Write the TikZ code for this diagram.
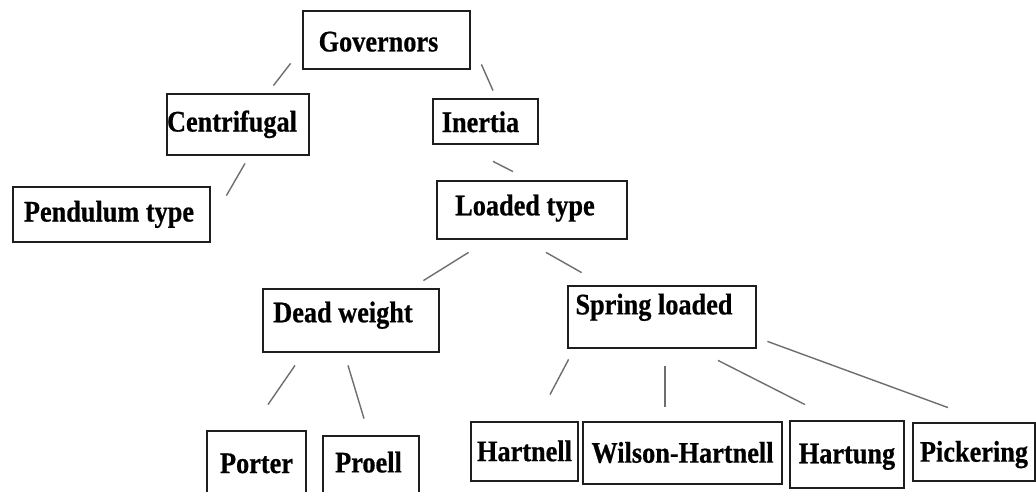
\documentclass[tikz,border=0pt]{standalone}
\usepackage{fontspec}
\setmainfont{Liberation Serif}[FakeStretch=0.88, BoldFeatures={FakeBold=0.6}]
\definecolor{boxline}{HTML}{1E1E1E}
\definecolor{linkgray}{HTML}{6E6E6E}
\tikzset{
  box/.style={draw=boxline, line width=1.6pt, inner sep=0pt,
    font=\fontsize{17}{20}\selectfont\bfseries, text=black,
    text height=12pt, text depth=4pt},
  bxsize/.style 2 args={minimum width=#1*0.02cm, minimum height=#2*0.02cm},
  lshift/.style={execute at end node={\hspace*{#1}}},
  link/.style={draw=linkgray, line width=0.8pt}
}
\begin{document}
\begin{tikzpicture}[x=0.02cm, y=-0.02cm]
  \useasboundingbox (0,0) rectangle (1036,492);
  \clip (0,0) rectangle (1036,492);
  % boxes
  \node[box, bxsize={167}{58}, lshift=0.32cm, text height=17pt] (gov) at (386.5,40) {Governors};
  \node[box, bxsize={142}{61}, lshift=0.24cm] (cen) at (238,124.5) {Centrifugal};
  \node[box, bxsize={197}{55}, lshift=0.1cm] (pen) at (111.5,214.5) {Pendulum type};
  \node[box, bxsize={105}{45}, lshift=0.2cm, text height=16pt] (ine) at (485.5,121.5) {Inertia};
  \node[box, bxsize={190}{58}, lshift=0.28cm, text depth=6pt] (lod) at (532,210) {Loaded type};
  \node[box, bxsize={176}{63}, lshift=0.32cm, text depth=10pt] (dea) at (351,320.5) {Dead weight};
  \node[box, bxsize={188}{62}, lshift=0.32cm, text depth=15pt] (spr) at (662,317) {Spring loaded};
  \node[box, bxsize={99}{70}] (por) at (256.5,466) {Porter};
  \node[box, bxsize={96}{64}, lshift=0.1cm, text depth=7pt] (pro) at (371,468) {Proell};
  \node[box, bxsize={107}{59}, text height=15pt] (har) at (524.5,451.5) {Hartnell};
  \node[box, bxsize={199}{62}, text height=15pt] (wil) at (682.5,453) {Wilson-Hartnell};
  \node[box, bxsize={114}{67}, text height=14pt] (hag) at (847,454.5) {Hartung};
  \node[box, bxsize={122}{58}, text height=15pt] (pic) at (974,452) {Pickering};
  % connectors
  \draw[link] ([shift={(-11,-7)}]gov.south west) -- ([shift={(-37,-7)}]cen.north east);
  \draw[link] ([shift={(10,-6)}]gov.south east) -- ([shift={(7.5,-7)}]ine.north);
  \draw[link] ([shift={(7,7)}]cen.south) -- ([shift={(15,10)}]pen.north east);
  \draw[link] ([shift={(7.5,16)}]ine.south) -- ([shift={(-19,-8)}]lod.north);
  \draw[link] ([shift={(33,12)}]lod.south west) -- ([shift={(-17,-7)}]dea.north east);
  \draw[link] ([shift={(14,12)}]lod.south) -- ([shift={(15,-12)}]spr.north west);
  \draw[link] ([shift={(-56,12)}]dea.south) -- ([shift={(11.5,-25)}]por.north);
  \draw[link] ([shift={(-3,12)}]dea.south) -- ([shift={(-7,-16)}]pro.north);
  \draw[link] ([shift={(2,10)}]spr.south west) -- ([shift={(25.5,-26)}]har.north);
  \draw[link] ([shift={(3,17)}]spr.south) -- ([shift={(-17.5,-14)}]wil.north);
  \draw[link] ([shift={(56,11)}]spr.south) -- ([shift={(-42,-15)}]hag.north);
  \draw[link] ([shift={(10,-8)}]spr.south east) -- ([shift={(-26,-14)}]pic.north);
\end{tikzpicture}
\end{document}
